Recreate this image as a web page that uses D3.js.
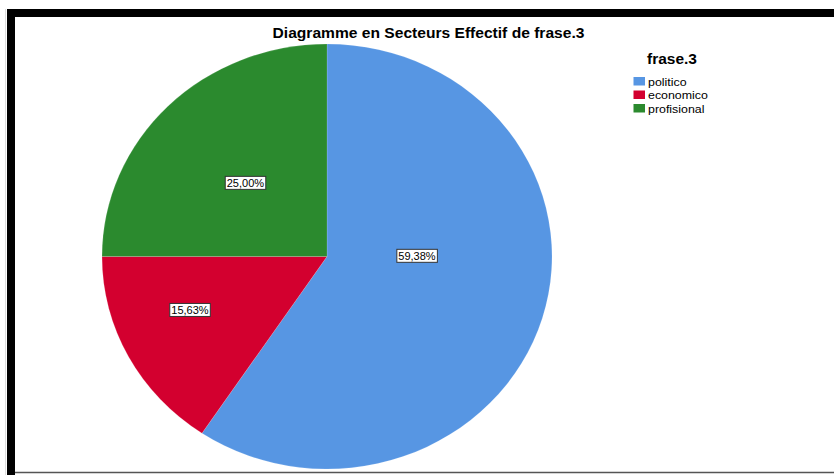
<!DOCTYPE html>
<html>
<head>
<meta charset="utf-8">
<script src="https://cdn.jsdelivr.net/npm/d3@7"></script>
<style>
  html, body { margin: 0; padding: 0; background: #fff; }
  svg { display: block; font-family: "Liberation Sans", Arial, sans-serif; }
</style>
</head>
<body>
<svg id="chart" width="834" height="475"></svg>
<script>
// ---- data ----
const title = "Diagramme en Secteurs Effectif de frase.3";
const legendTitle = "frase.3";
const categories = ["politico", "economico", "profisional"];
const counts = [19, 5, 8];
const percentLabels = ["59,38%", "15,63%", "25,00%"];
const colors = ["#5796E3", "#D3002F", "#2B8A2E"];

// ---- layout ----
const W = 834, H = 475;
const cx = 327, cy = 256.5, rx = 225, ry = 212.5;
const vscale = ry / rx;
const labelRadius = [0.40, 0.66, 0.50];
const labelAngleShift = [-17, 5.5, -1.5]; // degrees

const svg = d3.select("#chart");
svg.append("rect").attr("width", W).attr("height", H).attr("fill", "#fff");

// frame
svg.append("rect").attr("x", 7).attr("y", 9).attr("width", W - 7).attr("height", 8).attr("fill", "#000");
svg.append("rect").attr("x", 7).attr("y", 9).attr("width", 8).attr("height", H - 9).attr("fill", "#000");
svg.append("line").attr("x1", 15).attr("x2", W).attr("y1", 472.5).attr("y2", 472.5)
  .attr("stroke", "#555").attr("stroke-width", 1.5);
svg.append("line").attr("x1", 5.5).attr("x2", 5.5).attr("y1", 9).attr("y2", H)
  .attr("stroke", "#ddd").attr("stroke-width", 1);

// title (vertically squeezed like the reference)
svg.append("g").attr("transform", `translate(428.5,38) scale(1,${vscale})`)
  .append("text").attr("x", 0).attr("y", 0).attr("text-anchor", "middle")
  .attr("font-size", 15.6).attr("font-weight", "bold").attr("fill", "#000").text(title);

// pie
const pie = d3.pie().sort(null).value(d => d)(counts);
const arc = d3.arc().innerRadius(0).outerRadius(rx);
const g = svg.append("g").attr("transform", `translate(${cx},${cy}) scale(1,${vscale})`);
g.selectAll("path").data(pie).join("path")
  .attr("d", arc)
  .attr("fill", (d, i) => colors[i])
  .attr("stroke", "#fff").attr("stroke-width", 0.3).attr("stroke-opacity", 0.5);

// labels
const lg = svg.append("g");
pie.forEach((d, i) => {
  const a = (d.startAngle + d.endAngle) / 2 + labelAngleShift[i] * Math.PI / 180;
  const x = cx + rx * labelRadius[i] * Math.sin(a);
  const y = cy - ry * labelRadius[i] * Math.cos(a);
  const t = lg.append("text").attr("x", x).attr("y", y + 4).attr("text-anchor", "middle")
    .attr("font-size", 11).attr("fill", "#000").text(percentLabels[i]);
  const bb = t.node().getBBox();
  lg.insert("rect", "text").attr("x", bb.x - 1.5).attr("y", y - 7).attr("width", bb.width + 3).attr("height", 13)
    .attr("fill", "#fff").attr("stroke", "#333").attr("stroke-width", 1);
});

// legend
svg.append("g").attr("transform", `translate(672,63.5) scale(1,${vscale})`)
  .append("text").attr("text-anchor", "middle")
  .attr("font-size", 15.5).attr("font-weight", "bold").attr("fill", "#000").text(legendTitle);
const leg = svg.append("g");
categories.forEach((c, i) => {
  const y = 77 + i * 13.5;
  leg.append("rect").attr("x", 633.5).attr("y", y).attr("width", 11.5).attr("height", 8.5).attr("fill", colors[i]);
  leg.append("g").attr("transform", `translate(648,${y + 8.5}) scale(1,${vscale})`)
    .append("text").attr("font-size", 12.4).attr("fill", "#000").text(c);
});
</script>
</body>
</html>
